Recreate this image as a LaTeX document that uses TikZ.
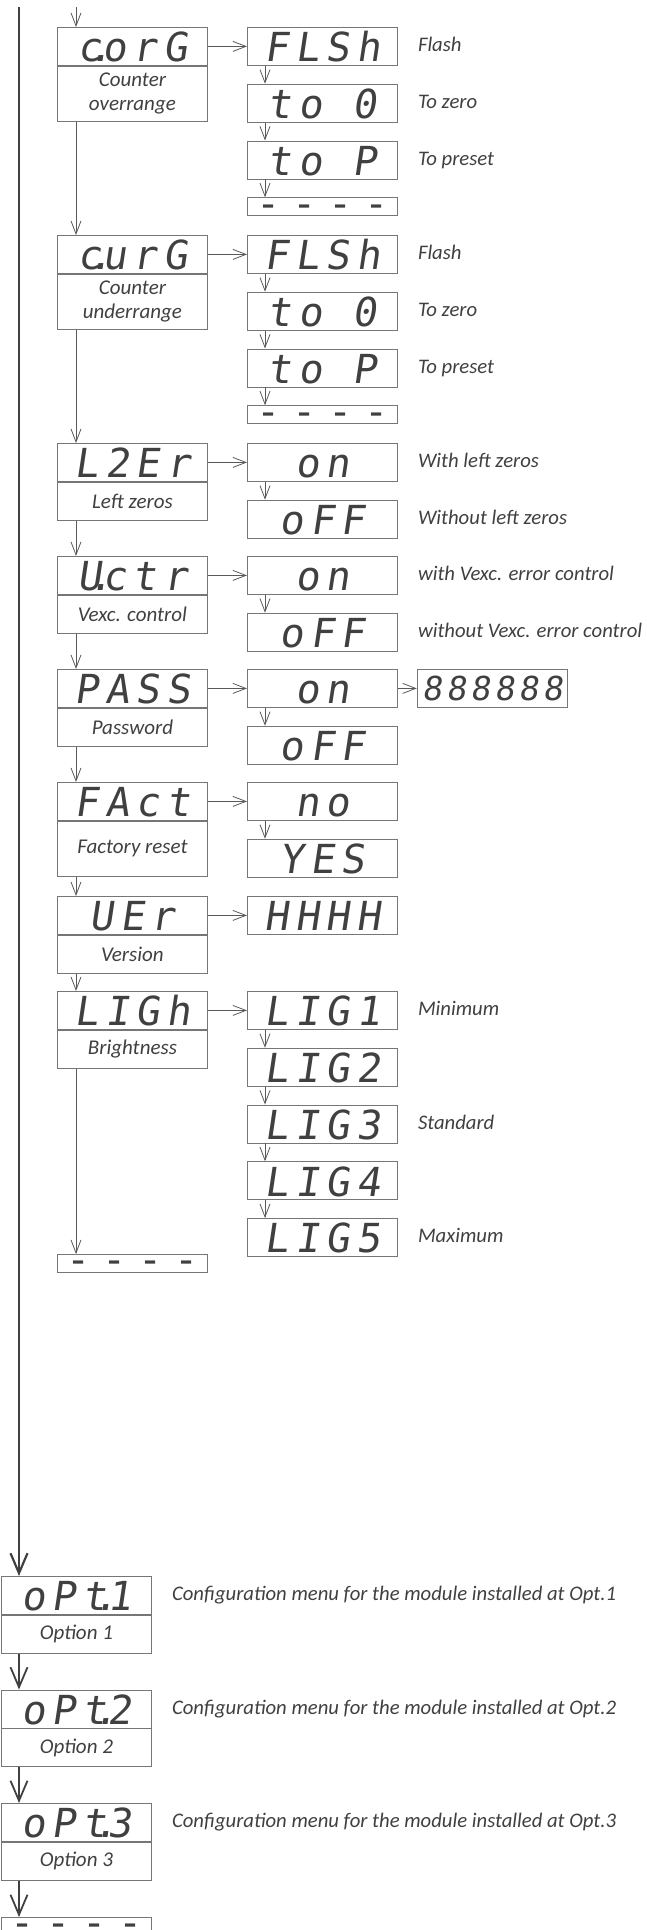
\documentclass[tikz,border=0pt]{standalone}
\usepackage{fontspec}
\setmainfont{Carlito}
\newfontfamily\segfont[LetterSpace=16,FakeSlant=0.15]{DejaVu Sans Mono}
\newfontfamily\segfontsm[LetterSpace=13,FakeSlant=0.15]{DejaVu Sans Mono}
\newfontfamily\segfontdash[LetterSpace=30]{DejaVu Sans Mono}
\usepackage{tikz}
\usetikzlibrary{positioning, arrows.meta}
\definecolor{boxgray}{HTML}{767676}
\definecolor{inkgray}{HTML}{404040}
\definecolor{wiregray}{HTML}{595959}
\newcommand{\segdot}{\kern-13pt.\kern-10pt}
\newcommand{\segdash}{\raisebox{-10.5pt}[0pt][0pt]{----}}

\tikzset{
	disp/.style={draw=boxgray, line width=0.8pt, anchor=north west, minimum width=150pt,
		inner xsep=0pt, inner ysep=3.5pt, text height=31pt, text depth=0pt,
		text=inkgray, font=\segfont\fontsize{40}{40}\selectfont},
	dashbox/.style={draw=boxgray, line width=0.8pt, anchor=north west, minimum width=150pt,
		minimum height=18pt, inner sep=0pt, text=inkgray, font=\segfontdash\fontsize{40}{40}\selectfont},
	lbl/.style={draw=boxgray, line width=0.8pt, anchor=north west, minimum width=150pt,
		minimum height=38pt, inner sep=0pt, align=center, text=inkgray,
		font=\itshape\fontsize{21}{24}\selectfont},
	note/.style={right=20pt of #1, inner sep=0pt, text height=13pt, text depth=2pt,
		text=inkgray, font=\itshape\fontsize{20.7}{24}\selectfont},
	arr/.style={draw=wiregray, line width=0.8pt, -{Straight Barb[length=13pt, width=10pt]}},
	bigarr/.style={draw=inkgray, line width=2.2pt, -{Straight Barb[length=20pt, width=17pt]}}
}

\begin{document}
\begin{tikzpicture}[x=1pt, y=-1pt]
			\useasboundingbox (0,0) rectangle (646,1930);
			\clip (0,0) rectangle (646,1930);
			\pgfmathsetmacro{\rowstep}{56.75}
			\pgfmathsetmacro{\optstep}{113.5}
			
			%% counter overrange
			\node[disp] (corg) at (57,27) {c\segdot orG};
			\node[lbl, minimum height=55pt] (corgl) at (corg.south west) {Counter\\overrange};
			\node[disp] (flsha) at (247,27) {FLSh};
			\node[disp] (toza) at (247,27+\rowstep) {to 0};
			\node[disp] (topa) at (247,27+2*\rowstep) {to P};
			\node[dashbox] (enda) at (247,27+3*\rowstep) {\segdash};
			\node[note=flsha] (nflsha) {Flash};
			\node[note=toza] (ntoza) {To zero};
			\node[note=topa] (ntopa) {To preset};
			
			%% counter underrange
			\node[disp] (curg) at (57,235) {c\segdot urG};
			\node[lbl, minimum height=55pt] (curgl) at (curg.south west) {Counter\\underrange};
			\node[disp] (flshb) at (247,235) {FLSh};
			\node[disp] (tozb) at (247,235+\rowstep) {to 0};
			\node[disp] (topb) at (247,235+2*\rowstep) {to P};
			\node[dashbox] (endb) at (247,235+3*\rowstep) {\segdash};
			\node[note=flshb] (nflshb) {Flash};
			\node[note=tozb] (ntozb) {To zero};
			\node[note=topb] (ntopb) {To preset};
			
			%% left zeros
			\node[disp] (lzer) at (57,443) {L2Er};
			\node[lbl] (lzerl) at (lzer.south west) {Left zeros};
			\node[disp] (lzon) at (247,443) {on};
			\node[disp] (lzoff) at (247,443+\rowstep) {oFF};
			\node[note=lzon] (nlzon) {With left zeros};
			\node[note=lzoff] (nlzoff) {Without left zeros};
			
			%% vexc control
			\node[disp] (vctr) at (57,556) {U\segdot ctr};
			\node[lbl] (vctrl) at (vctr.south west) {Vexc. control};
			\node[disp] (vcon) at (247,556) {on};
			\node[disp] (vcoff) at (247,556+\rowstep) {oFF};
			\node[note=vcon] (nvcon) {with Vexc. error control};
			\node[note=vcoff] (nvcoff) {without Vexc. error control};
			
			%% password
			\node[disp] (pass) at (57,669) {PASS};
			\node[lbl] (passl) at (pass.south west) {Password};
			\node[disp] (pson) at (247,669) {on};
			\node[disp] (psoff) at (247,669+\rowstep) {oFF};
			\node[disp, right=19pt of pson, font=\segfontsm\fontsize{33}{33}\selectfont,
				text height=25pt, inner ysep=6.5pt] (pscode) {888888};
			
			%% factory reset
			\node[disp] (fact) at (57,782) {FAct};
			\node[lbl, minimum height=55pt] (factl) at (fact.south west) {Factory reset};
			\node[disp] (fano) at (247,782) {no};
			\node[disp] (fayes) at (247,782+\rowstep) {YES};
			
			%% version
			\node[disp] (ver) at (57,896) {UEr};
			\node[lbl] (verl) at (ver.south west) {Version};
			\node[disp] (verhh) at (247,896) {HHHH};
			
			%% brightness
			\node[disp] (ligh) at (57,991) {LIGh};
			\node[lbl] (lighl) at (ligh.south west) {Brightness};
			\foreach \k in {1,...,5}{
				\node[disp] (lig\k) at (247,{991+(\k-1)*\rowstep}) {LIG\k};
			}
			\foreach \k [count=\n from 2] in {1,...,4}{
				\draw[arr] ([xshift=18pt]lig\k.south west) -- ([xshift=18pt]lig\n.north west);
			}
			\node[note=lig1] (nlig1) {Minimum};
			\node[note=lig3] (nlig3) {Standard};
			\node[note=lig5] (nlig5) {Maximum};
			\node[dashbox] (lend) at (57,1254) {\segdash};
			
			%% options
			\node[disp] (opta) at (1,1576) {oPt\segdot 1};
			\node[lbl] (optal) at (opta.south west) {Option 1};
			\node[disp] (optb) at (1,1576+\optstep) {oPt\segdot 2};
			\node[lbl] (optbl) at (optb.south west) {Option 2};
			\node[disp] (optc) at (1,1576+2*\optstep) {oPt\segdot 3};
			\node[lbl] (optcl) at (optc.south west) {Option 3};
			\node[dashbox] (oend) at (1,1917) {\segdash};
			\node[note=opta] (nopta) {Configuration menu for the module installed at Opt.1};
			\node[note=optb] (noptb) {Configuration menu for the module installed at Opt.2};
			\node[note=optc] (noptc) {Configuration menu for the module installed at Opt.3};
			
			%% connectors
			\coordinate (entry) at (76,7);
			\coordinate (mainin) at (19,7);
			\draw[arr] (entry) -- (corg.north -| entry);
			\draw[bigarr] (mainin) -- (opta.north -| mainin);
			
			\draw[arr] ([xshift=19pt]corgl.south west) -- ([xshift=19pt]curg.north west);
			\draw[arr] ([xshift=19pt]curgl.south west) -- ([xshift=19pt]lzer.north west);
			\draw[arr] ([xshift=19pt]lzerl.south west) -- ([xshift=19pt]vctr.north west);
			\draw[arr] ([xshift=19pt]vctrl.south west) -- ([xshift=19pt]pass.north west);
			\draw[arr] ([xshift=19pt]passl.south west) -- ([xshift=19pt]fact.north west);
			\draw[arr] ([xshift=19pt]factl.south west) -- ([xshift=19pt]ver.north west);
			\draw[arr] ([xshift=19pt]verl.south west) -- ([xshift=19pt]ligh.north west);
			\draw[arr] ([xshift=19pt]lighl.south west) -- ([xshift=19pt]lend.north west);
			
			\draw[arr] (corg.east) -- (flsha.west);
			\draw[arr] (curg.east) -- (flshb.west);
			\draw[arr] (lzer.east) -- (lzon.west);
			\draw[arr] (vctr.east) -- (vcon.west);
			\draw[arr] (pass.east) -- (pson.west);
			\draw[arr] (pson.east) -- (pscode.west);
			\draw[arr] (fact.east) -- (fano.west);
			\draw[arr] (ver.east) -- (verhh.west);
			\draw[arr] (ligh.east) -- (lig1.west);
			
			\draw[arr] ([xshift=18pt]flsha.south west) -- ([xshift=18pt]toza.north west);
			\draw[arr] ([xshift=18pt]toza.south west) -- ([xshift=18pt]topa.north west);
			\draw[arr] ([xshift=18pt]topa.south west) -- ([xshift=18pt]enda.north west);
			\draw[arr] ([xshift=18pt]flshb.south west) -- ([xshift=18pt]tozb.north west);
			\draw[arr] ([xshift=18pt]tozb.south west) -- ([xshift=18pt]topb.north west);
			\draw[arr] ([xshift=18pt]topb.south west) -- ([xshift=18pt]endb.north west);
			\draw[arr] ([xshift=18pt]lzon.south west) -- ([xshift=18pt]lzoff.north west);
			\draw[arr] ([xshift=18pt]vcon.south west) -- ([xshift=18pt]vcoff.north west);
			\draw[arr] ([xshift=18pt]pson.south west) -- ([xshift=18pt]psoff.north west);
			\draw[arr] ([xshift=18pt]fano.south west) -- ([xshift=18pt]fayes.north west);
			
			\draw[bigarr, line width=1.8pt] ([xshift=18pt]optal.south west) -- ([xshift=18pt]optb.north west);
			\draw[bigarr, line width=1.8pt] ([xshift=18pt]optbl.south west) -- ([xshift=18pt]optc.north west);
			\draw[bigarr, line width=1.8pt] ([xshift=18pt]optcl.south west) -- ([xshift=18pt]oend.north west);
\end{tikzpicture}
\end{document}
